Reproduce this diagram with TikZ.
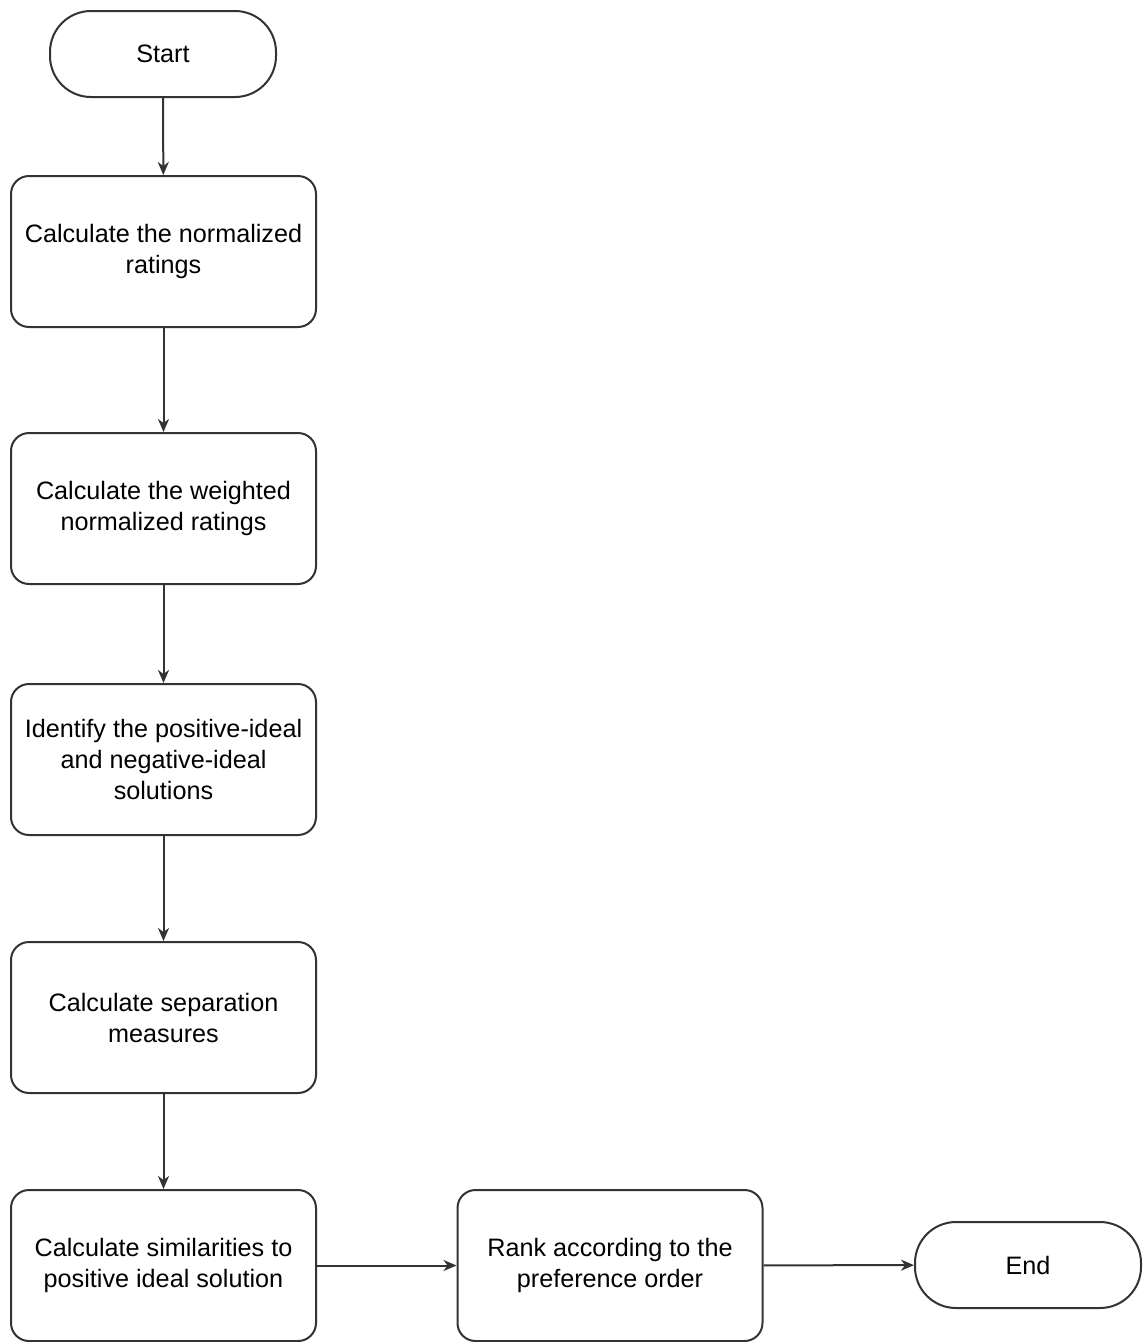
\documentclass[tikz,border=0pt]{standalone}
\usepackage{fontspec}
\setmainfont{Liberation Sans}
\usetikzlibrary{arrows.meta}
\definecolor{edge}{HTML}{333333}
\begin{document}
\begin{tikzpicture}[x=1pt,y=-1pt,
  every node/.style={font=\fontsize{25.2}{31}\selectfont, align=center, inner sep=0pt},
  term/.style={draw=edge, line width=2pt, rounded corners=41pt, minimum width=226pt, minimum height=86pt},
  stepbox/.style={draw=edge, line width=2pt, rounded corners=18pt, minimum width=305pt, minimum height=151pt},
  flow/.style={draw=edge, line width=2pt, -{Stealth[length=13pt,width=11pt,inset=4pt]}}
]
\useasboundingbox (0,0) rectangle (1144,1342);

\node[term] (start) at (163,54) {Start};
\node[stepbox] (norm) at (163.5,251.5) {Calculate the normalized\\ratings};
\node[stepbox] (wnorm) at (163.5,508.5) {Calculate the weighted\\normalized ratings};
\node[stepbox] (ideal) at (163.5,759.5) {Identify the positive-ideal\\and negative-ideal\\solutions};
\node[stepbox] (sep) at (163.5,1017.5) {Calculate separation\\measures};
\node[stepbox] (sim) at (163.5,1265.5) {Calculate similarities to\\positive ideal solution};
\node[stepbox] (rank) at (610,1265.5) {Rank according to the\\preference order};
\node[term] (end) at (1028,1265) {End};

\draw[flow] (start) -- (norm);
\draw[flow] (norm) -- (wnorm);
\draw[flow] (wnorm) -- (ideal);
\draw[flow] (ideal) -- (sep);
\draw[flow] (sep) -- (sim);
\draw[flow] (sim) -- (rank);
\draw[flow] (rank) -- (end);
\end{tikzpicture}
\end{document}
